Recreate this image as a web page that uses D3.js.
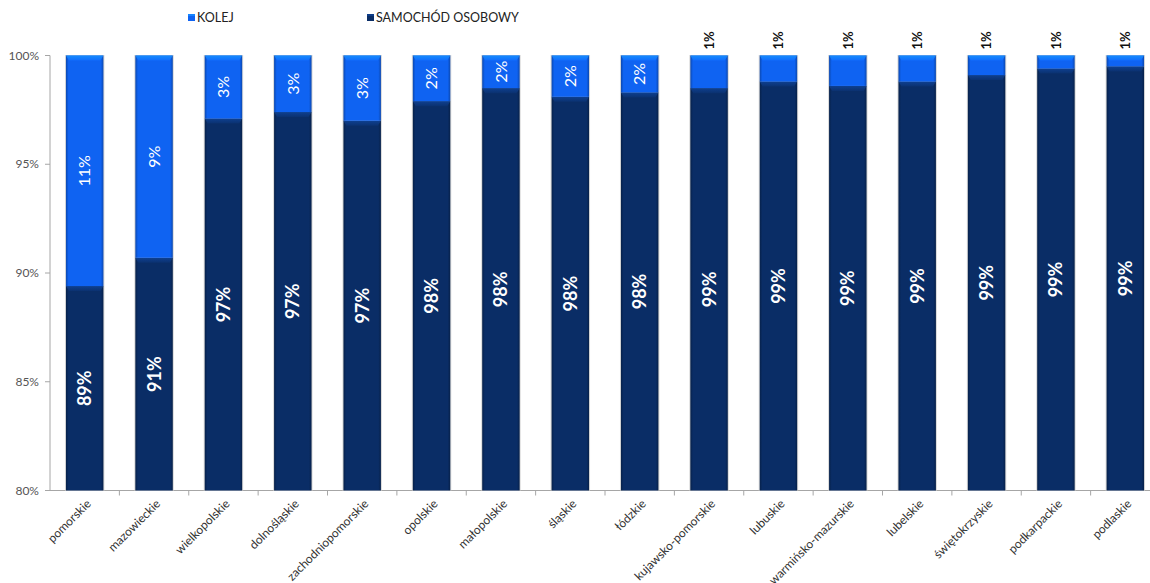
<!DOCTYPE html>
<html>
<head>
<meta charset="utf-8">
<script src="https://cdn.jsdelivr.net/npm/d3@7"></script>
<style>
  html, body { margin: 0; padding: 0; background: #fff; }
  svg { display: block; font-family: Lato, "Open Sans", sans-serif; }
</style>
</head>
<body>
<svg id="chart" width="1150" height="583"></svg>
<script>
// Voivodeships, ordered by share of car travel
const regions = [
  "pomorskie", "mazowieckie", "wielkopolskie", "dolnośląskie", "zachodniopomorskie",
  "opolskie", "małopolskie", "śląskie", "łódzkie", "kujawsko-pomorskie", "lubuskie",
  "warmińsko-mazurskie", "lubelskie", "świętokrzyskie", "podkarpackie", "podlaskie"
];
// Share of passenger car (percent)
const carShare = [89.4, 90.7, 97.1, 97.4, 97.0, 97.9, 98.5, 98.1, 98.3, 98.5, 98.8, 98.6, 98.8, 99.1, 99.4, 99.5];
// Share of rail (percent)
const railShare = [10.6, 9.3, 2.9, 2.6, 3.0, 2.1, 1.5, 1.9, 1.7, 1.5, 1.2, 1.4, 1.2, 0.9, 0.6, 0.5];
// Printed labels
const carLabels = ["89%", "91%", "97%", "97%", "97%", "98%", "98%", "98%", "98%", "99%", "99%", "99%", "99%", "99%", "99%", "99%"];
const railLabels = ["11%", "9%", "3%", "3%", "3%", "2%", "2%", "2%", "2%", "1%", "1%", "1%", "1%", "1%", "1%", "1%"];
const yTicks = [80, 85, 90, 95, 100];
const seriesNames = ["KOLEJ", "SAMOCHÓD OSOBOWY"];

const colors = { rail: "#0f63f2", car: "#0a2d66" };

const svg = d3.select("#chart");
const margin = { left: 50, top: 55.5, bottom: 490.5 };
const x = d3.scaleBand().domain(regions).range([50, 1160]).paddingInner(0.46).paddingOuter(0.23);
const y = d3.scaleLinear().domain([80, 100]).range([margin.bottom, margin.top]);

const defs = svg.append("defs");
function sideGrad(id, base) {
  const c = d3.color(base);
  const g = defs.append("linearGradient").attr("id", id).attr("x1", 0).attr("x2", 1).attr("y1", 0).attr("y2", 0);
  g.append("stop").attr("offset", "0%").attr("stop-color", c.darker(0.9));
  g.append("stop").attr("offset", "7%").attr("stop-color", base);
  g.append("stop").attr("offset", "93%").attr("stop-color", base);
  g.append("stop").attr("offset", "100%").attr("stop-color", c.darker(0.9));
}
function topGrad(id, base) {
  const c = d3.color(base);
  const g = defs.append("linearGradient").attr("id", id).attr("x1", 0).attr("x2", 0).attr("y1", 0).attr("y2", 1);
  g.append("stop").attr("offset", "0%").attr("stop-color", c.brighter(1.1));
  g.append("stop").attr("offset", "100%").attr("stop-color", c.brighter(0.3));
}
sideGrad("railSide", colors.rail);
sideGrad("carSide", colors.car);
topGrad("railTop", colors.rail);
topGrad("carTop", colors.car);

// Axes
const gx = svg.append("g");
gx.append("line").attr("x1", 45).attr("x2", 1160).attr("y1", y(80)).attr("y2", y(80))
  .attr("stroke", "#a6a6a6").attr("stroke-width", 1);
const boundaries = regions.map(r => x(r) - x.step() * x.paddingInner() / 2);
boundaries.slice(1).forEach(b => {
  gx.append("line").attr("x1", b).attr("x2", b).attr("y1", y(80)).attr("y2", y(80) + 5)
    .attr("stroke", "#a6a6a6");
});
const gy = svg.append("g");
gy.append("line").attr("x1", 50).attr("x2", 50).attr("y1", y(100)).attr("y2", y(80))
  .attr("stroke", "#a6a6a6");
yTicks.forEach(t => {
  gy.append("line").attr("x1", 45).attr("x2", 50).attr("y1", y(t)).attr("y2", y(t)).attr("stroke", "#a6a6a6");
  gy.append("text").attr("x", 39).attr("y", y(t)).attr("dy", "0.35em").attr("text-anchor", "end")
    .attr("font-size", 12).attr("fill", "#555").text(t + "%");
});

// Bars
const bw = x.bandwidth();
regions.forEach((r, i) => {
  const x0 = x(r);
  const g = svg.append("g");
  const segs = [
    { lo: 80, hi: carShare[i], side: "url(#carSide)", top: "url(#carTop)" },
    { lo: carShare[i], hi: 100, side: "url(#railSide)", top: "url(#railTop)" }
  ];
  // soft shadow
  g.append("rect").attr("x", x0 - 1).attr("y", y(100) - 0.5).attr("width", bw + 2).attr("height", y(80) - y(100) + 0.5)
    .attr("fill", "#d9d9d9");
  segs.forEach(s => {
    const yt = y(s.hi), yb = y(s.lo);
    g.append("rect").attr("x", x0).attr("y", yt).attr("width", bw).attr("height", yb - yt).attr("fill", s.side);
    const h = Math.min(5, yb - yt);
    g.append("path")
      .attr("d", `M${x0},${yt}L${x0 + bw},${yt}L${x0 + bw - 3},${yt + h}L${x0 + 3},${yt + h}Z`)
      .attr("fill", s.top).attr("opacity", 0.85);
  });

  const cx = x0 + bw / 2;
  // car label
  const cy = (y(80) + y(carShare[i])) / 2;
  g.append("text").attr("transform", `translate(${cx},${cy}) rotate(-90)`)
    .attr("text-anchor", "middle").attr("dy", "0.36em")
    .attr("font-size", 18).attr("font-weight", "bold").attr("fill", "#fff").text(carLabels[i]);
  // rail label
  if (railShare[i] >= 1.5 && railLabels[i] !== "1%") {
    const ry = (y(100) + y(carShare[i])) / 2;
    g.append("text").attr("transform", `translate(${cx},${ry}) rotate(-90)`)
      .attr("text-anchor", "middle").attr("dy", "0.36em")
      .attr("font-size", 16).attr("fill", "#fff").text(railLabels[i]);
  } else {
    g.append("text").attr("transform", `translate(${cx},${y(100) - 15}) rotate(-90)`)
      .attr("text-anchor", "middle").attr("dy", "0.36em")
      .attr("font-size", 13).attr("font-weight", "bold").attr("fill", "#111").text(railLabels[i]);
  }

  // category label
  svg.append("text").attr("transform", `translate(${cx + 7},${y(80) + 14}) rotate(-45)`)
    .attr("text-anchor", "end").attr("font-size", 12).attr("fill", "#333").text(r);
});

// Legend
const legend = [
  { name: seriesNames[0], color: colors.rail, x: 188 },
  { name: seriesNames[1], color: colors.car, x: 367 }
];
legend.forEach(l => {
  const g = svg.append("g").attr("transform", `translate(${l.x},14)`);
  g.append("rect").attr("width", 7).attr("height", 7).attr("fill", l.color);
  g.append("rect").attr("y", 0).attr("width", 7).attr("height", 2).attr("fill", d3.color(l.color).brighter(0.8));
  g.append("text").attr("x", 9).attr("y", 3.5).attr("dy", "0.36em").attr("font-size", 12.5)
    .attr("fill", "#222").text(l.name);
});
</script>
</body>
</html>
